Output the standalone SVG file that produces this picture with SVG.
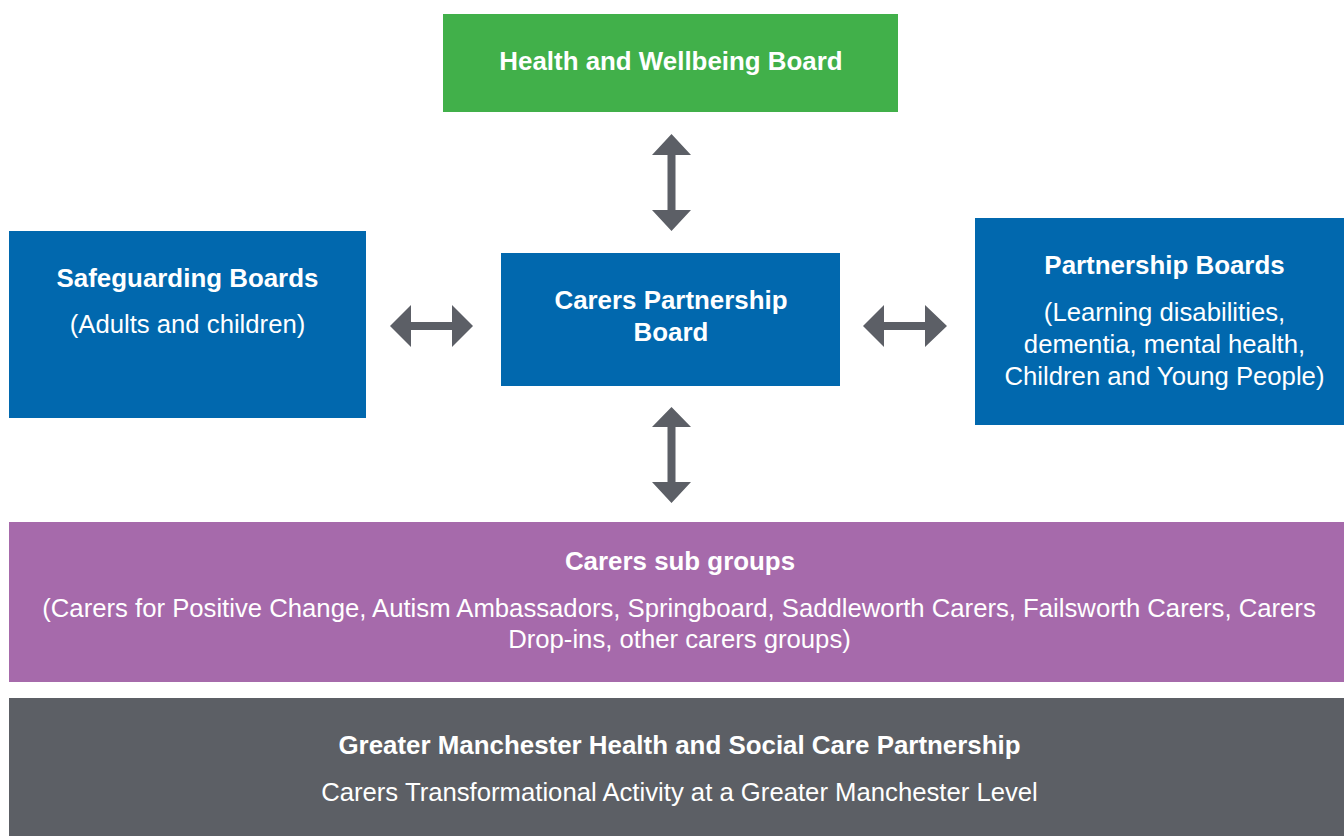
<svg xmlns="http://www.w3.org/2000/svg" width="1344" height="836" viewBox="0 0 1344 836">
<style>
.t{font-family:"Liberation Sans",Arial,sans-serif;fill:#fff;text-anchor:middle;}
.b{font-weight:bold;font-size:25.9px;}
.r{font-size:25.7px;}
.arr{fill:#5c5f66;}
</style>
<rect width="1344" height="836" fill="#fff"/>
<g id="health">
<rect x="443" y="14" width="455" height="98" fill="#41b04a"/>
<text class="t b" x="671" y="70">Health and Wellbeing Board</text>
</g>
<g id="safeguarding">
<rect x="9" y="231" width="357" height="187" fill="#0168ae"/>
<text class="t b" x="187.5" y="287">Safeguarding Boards</text>
<text class="t r" x="187.5" y="333">(Adults and children)</text>
</g>
<g id="carers-partnership">
<rect x="501" y="253" width="339" height="133" fill="#0168ae"/>
<text class="t b" x="671" y="309">Carers Partnership</text>
<text class="t b" x="671" y="341">Board</text>
</g>
<g id="partnership-boards">
<rect x="975" y="218" width="379" height="207" fill="#0168ae"/>
<text class="t b" x="1164.5" y="274">Partnership Boards</text>
<text class="t r" x="1164.5" y="321">(Learning disabilities,</text>
<text class="t r" x="1164.5" y="353">dementia, mental health,</text>
<text class="t r" x="1164.5" y="385">Children and Young People)</text>
</g>
<g id="sub-groups">
<rect x="9" y="522" width="1345" height="160" fill="#a66aab"/>
<text class="t b" x="680" y="570">Carers sub groups</text>
<text class="t r" x="679" y="617">(Carers for Positive Change, Autism Ambassadors, Springboard, Saddleworth Carers, Failsworth Carers, Carers</text>
<text class="t r" x="679.5" y="648">Drop-ins, other carers groups)</text>
</g>
<g id="gm">
<rect x="9" y="698" width="1345" height="138" fill="#5c5f65"/>
<text class="t b" x="679.5" y="754">Greater Manchester Health and Social Care Partnership</text>
<text class="t r" x="679.5" y="801">Carers Transformational Activity at a Greater Manchester Level</text>
</g>
<g id="connectors">
<polygon class="arr" points="671.5,134 691,155 675.5,155 675.5,210 691,210 671.5,231 652,210 667.5,210 667.5,155 652,155"/>
<polygon class="arr" points="671.5,407 691,427 675.5,427 675.5,482 691,482 671.5,503 652,482 667.5,482 667.5,427 652,427"/>
<polygon class="arr" points="390,326 411,305 411,322 452,322 452,305 473,326 452,347 452,330 411,330 411,347"/>
<polygon class="arr" points="863,326 884,305 884,322 925,322 925,305 947,326 925,347 925,330 884,330 884,347"/>
</g>
</svg>
